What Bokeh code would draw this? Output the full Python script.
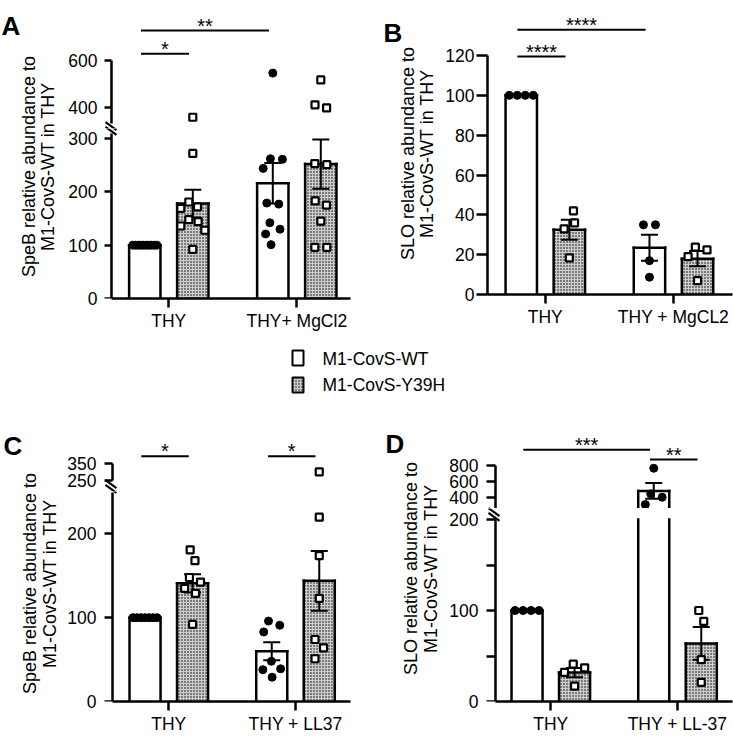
import numpy as np
from bokeh.plotting import figure
from bokeh.models import Range1d, FixedTicker, LinearAxis
from bokeh.layouts import row, column
from bokeh.embed import file_html
from bokeh.resources import INLINE
from bokeh.core.properties import value

FONT = "Liberation Sans"

# ------------------------------------------------------------------ data
strains = ["M1-CovS-WT", "M1-CovS-Y39H"]

A_cats = ["THY", "THY+ MgCl2"]
A_wt_mean = [100, 216]
A_wt_sem = [0, 38]
A_mut_mean = [178, 252]
A_mut_sem = [26, 46]
A_wt_pts = [[100] * 10, [546, 262, 261, 244, 179, 177, 142, 130, 121, 101]]
A_mut_pts = [[357, 272, 181, 172, 169, 148, 144, 136, 128, 92],
             [517, 410, 397, 253, 251, 183, 175, 145, 96, 96]]
A_sig_from = [0, 0]          # bar index: 0 WT/grp1, 1 Y39H/grp1, 2 WT/grp2, 3 Y39H/grp2
A_sig_to = [1, 2]
A_sig_y = [629, 728]
A_sig_text = ["*", "**"]
A_ticks_upper = [400, 600]
A_ticks_lower = [0, 100, 200, 300]

B_cats = ["THY", "THY + MgCL2"]
B_wt_mean = [100, 23.5]
B_wt_sem = [0, 6.5]
B_mut_mean = [32.5, 18]
B_mut_sem = [5, 3.8]
B_wt_pts = [[100] * 4, [35, 35, 17, 8.7]]
B_mut_pts = [[42, 36, 33, 18.4], [22.4, 23.8, 19, 7]]
B_sig_from = [0, 0]
B_sig_to = [1, 2]
B_sig_y = [119.5, 133]
B_sig_text = ["****", "****"]
B_ticks = [0, 20, 40, 60, 80, 100, 120]

C_cats = ["THY", "THY + LL37"]
C_wt_mean = [100, 60]
C_wt_sem = [0, 10.7]
C_mut_mean = [141, 144]
C_mut_sem = [11, 35.7]
C_wt_pts = [[100] * 7, [91, 96, 83, 48, 39, 38, 29]]
C_mut_pts = [[181, 168, 148, 142.5, 135, 129, 92],
             [300, 220, 174, 123, 74, 64, 51]]
C_sig_from = [0, 2]
C_sig_to = [1, 3]
C_sig_y = [390, 390]
C_sig_text = ["*", "*"]
C_ticks_upper = [250, 350]
C_ticks_lower = [0, 100, 200]

D_cats = ["THY", "THY + LL-37"]
D_wt_mean = [100, 485]
D_wt_sem = [0, 98]
D_mut_mean = [31.75, 63.75]
D_mut_sem = [5, 18]
D_wt_pts = [[100] * 4, [766, 450, 407, 317]]
D_mut_pts = [[37, 41, 32, 17], [100, 88, 46, 21]]
D_sig_from = [0, 2]
D_sig_to = [2, 3]
D_sig_y = [994, 874]
D_sig_text = ["***", "**"]
D_ticks_upper = [400, 600, 800]
D_ticks_lower = [0, 50, 100, 150, 200]
D_labels_lower = {50: "", 150: ""}

# ------------------------------------------------------------------ style / layout
OFF = 0.1875
BW = 0.245
HATCH = dict(hatch_pattern="dot", hatch_color="black", hatch_scale=3, hatch_weight=1.4)
MUT_FILL = "#cdcdcd"
TICK_FS = "17.5px"
LAB_FS = "18px"

PANELS = [
    dict(cats=A_cats, wm=A_wt_mean, ws=A_wt_sem, mm=A_mut_mean, ms=A_mut_sem,
         wp=A_wt_pts, mp=A_mut_pts, sf=A_sig_from, st=A_sig_to, sy=A_sig_y, stx=A_sig_text,
         letter="A", ylab=["SpeB relative abundance to", "M1-CovS-WT in THY"],
         lab_w=60, lab_h=340, letter_x=1, letter_base=25, ylab_x=[28.7, 47.3], ylab_cy=166,
         seg_w=320, mb_l=44, mb_r=30, frame_left=104, xr=(0.49766, 2.41953), ppx=128.0,
         yaxis_x=0.55625, lab_so=7,
         segs=[dict(lo=308.8, hi=805.6, ppu=0.2335, top=12, h=128, mbt=12, mbb=0,
                    dom=(331.5, 805.6), ticks=A_ticks_upper, bounds=(331.5, 600), x=False),
               dict(lo=0, hi=318.8, ppu=0.5333, top=128, h=212, mbt=0, mbb=42,
                    dom=(0, 310), ticks=A_ticks_lower, bounds=(0, 310), x=True)],
         brk=(110.5, 128)),
    dict(cats=B_cats, wm=B_wt_mean, ws=B_wt_sem, mm=B_mut_mean, ms=B_mut_sem,
         wp=B_wt_pts, mp=B_mut_pts, sf=B_sig_from, st=B_sig_to, sy=B_sig_y, stx=B_sig_text,
         letter="B", ylab=["SLO relative abundance to", "M1-CovS-WT in THY"],
         lab_w=56, lab_h=340, letter_x=3, letter_base=25, ylab_x=[27.3, 46.7], ylab_cy=170,
         seg_w=297, mb_l=51, mb_r=1, frame_left=487, xr=(0.5491, 2.4602), ppx=128.2,
         yaxis_x=None, lab_so=2,
         segs=[dict(lo=0, hi=141.6, ppu=1.9917, top=12, h=340, mbt=12, mbb=46,
                    dom=(0, 141.6), ticks=B_ticks, bounds=(0, 120), x=True)],
         brk=None),
    dict(cats=C_cats, wm=C_wt_mean, ws=C_wt_sem, mm=C_mut_mean, ms=C_mut_sem,
         wp=C_wt_pts, mp=C_mut_pts, sf=C_sig_from, st=C_sig_to, sy=C_sig_y, stx=C_sig_text,
         letter="C", ylab=["SpeB relative abundance to", "M1-CovS-WT in THY"],
         lab_w=60, lab_h=341, letter_x=3, letter_base=50, ylab_x=[29, 49], ylab_cy=188,
         seg_w=320, mb_l=44, mb_r=30, frame_left=104, xr=(0.49250, 2.43408), ppx=126.7,
         yaxis_x=0.55170, lab_so=8,
         segs=[dict(lo=186.4, hi=481.2, ppu=0.173, top=440, h=96, mbt=45, mbb=0,
                    dom=(250, 481.2), ticks=C_ticks_upper, bounds=(250, 350), x=False),
               dict(lo=0, hi=250.6, ppu=0.846, top=491, h=245, mbt=0, mbb=33,
                    dom=(0, 250), ticks=C_ticks_lower, bounds=(0, 250), x=True)],
         brk=(110.5, 486)),
    dict(cats=D_cats, wm=D_wt_mean, ws=D_wt_sem, mm=D_mut_mean, ms=D_mut_sem,
         wp=D_wt_pts, mp=D_mut_pts, sf=D_sig_from, st=D_sig_to, sy=D_sig_y, stx=D_sig_text,
         letter="D", ylab=["SLO relative abundance to", "M1-CovS-WT in THY"],
         lab_w=62, lab_h=341, letter_x=5, letter_base=48, ylab_x=[30.5, 50.5], ylab_cy=173,
         seg_w=291, mb_l=44, mb_r=1, frame_left=486, xr=(0.49250, 2.43408), ppx=126.7,
         yaxis_x=0.55959, lab_so=8,
         segs=[dict(lo=267.8, hi=1233.2, ppu=0.0808, top=430, h=113, mbt=35, mbb=0,
                    dom=(267.8, 1233.2), ticks=D_ticks_upper, bounds=(267.8, 800), x=False),
               dict(lo=0, hi=212.1, ppu=0.91, top=508, h=228, mbt=0, mbb=35,
                    dom=(0, 200), ticks=D_ticks_lower, bounds=(0, 200), x=True,
                    over=D_labels_lower)],
         brk=(493.5, 514)),
]


def bar_x(i):
    g, s = divmod(i, 2)
    return g + 1 + (OFF if s else -OFF)


def swarm(vals, ys, d=12.0, limit=12.0):
    n = len(vals)
    order = sorted(range(n), key=lambda i: -vals[i])
    placed = {}
    for i in order:
        y = ys[i]
        cands = [0.0]
        for (px, py) in placed.values():
            dy = abs(py - y)
            if dy < d:
                dx = (d * d - dy * dy) ** 0.5
                cands += [px + dx, px - dx]
        cands.sort(key=lambda c: (round(abs(c), 6), -c))
        for c in cands:
            if all((c - px) ** 2 + (y - py) ** 2 >= d * d - 1e-6 for px, py in placed.values()):
                placed[i] = (c, y)
                break
    offs = [placed[i][0] for i in range(n)]
    idx = sorted(range(n), key=lambda i: ys[i])
    clusters = []
    for i in idx:
        if clusters and ys[i] - ys[clusters[-1][-1]] < d:
            clusters[-1].append(i)
        else:
            clusters.append([i])
    for cl in clusters:
        c = (max(offs[i] for i in cl) + min(offs[i] for i in cl)) / 2
        for i in cl:
            offs[i] -= c
    m = max(abs(o) for o in offs)
    if m > limit:
        offs = [o * limit / m for o in offs]
    return offs


def to_page_y(P, v):
    for s in reversed(P["segs"]):
        if s["dom"][0] <= v <= s["dom"][1]:
            return s["top"] + (s["hi"] - v) * s["ppu"]
    return float("nan")


def label_style(ax):
    ax.major_label_text_font = FONT
    ax.major_label_text_font_size = TICK_FS
    ax.major_label_text_color = "black"


def rule_style(ax, tick_out):
    ax.axis_line_width = 2.5
    ax.axis_line_color = "black"
    ax.major_tick_line_width = 2.5
    ax.major_tick_line_color = "black"
    ax.major_tick_out = tick_out
    ax.major_tick_in = 0
    ax.minor_tick_line_color = None


def style_axes(p, s, P):
    ax = p.yaxis[0]
    ax.ticker = FixedTicker(ticks=s["ticks"], minor_ticks=[])
    ax.bounds = s["bounds"]
    label_style(ax)
    ax.major_label_standoff = P["lab_so"]
    if s.get("over"):
        ax.major_label_overrides = s["over"]
    if P["yaxis_x"] is None:
        rule_style(ax, 11)
    else:
        # frame-edge axis carries only the tick labels; the axis line and ticks are
        # drawn by a second axis pinned at the panel's y-axis position
        ax.axis_line_color = None
        ax.major_tick_line_color = None
        ax.minor_tick_line_color = None
        ax.major_tick_out = 0
        ax.major_tick_in = 0
        rule = LinearAxis(ticker=FixedTicker(ticks=s["ticks"], minor_ticks=[]),
                          fixed_location=P["yaxis_x"], bounds=s["bounds"],
                          major_label_text_color=None)
        rule_style(rule, 11)
        p.add_layout(rule, "left")
    if s["x"]:
        cats = P["cats"]
        xa = p.xaxis[0]
        xa.ticker = FixedTicker(ticks=[1, 2], minor_ticks=[])
        xa.major_label_overrides = {1: cats[0], 2: cats[1]}
        if P["yaxis_x"] is not None:
            xa.bounds = (P["yaxis_x"], P["xr"][1])
        rule_style(xa, 9)
        label_style(xa)
        xa.major_label_standoff = 3


def build_panel(P):
    lf = figure(width=P["lab_w"], height=P["lab_h"], x_range=Range1d(0, P["lab_w"]),
                y_range=Range1d(0, P["lab_h"]), output_backend="svg", toolbar_location=None,
                x_axis_location=None, y_axis_location=None, min_border=0,
                outline_line_color=None)
    lf.grid.visible = False
    H = P["lab_h"]
    lf.text(x=[P["letter_x"]], y=[H - P["letter_base"]], text=[P["letter"]],
            text_font=value(FONT), text_font_style="bold", text_font_size="26px",
            text_baseline="alphabetic", text_align="left", text_color="black")
    lf.text(x=P["ylab_x"], y=[H - P["ylab_cy"]] * 2, text=P["ylab"], angle=np.pi / 2,
            text_font=value(FONT), text_font_size=LAB_FS, text_align="center",
            text_baseline="middle", text_color="black")

    xr = Range1d(*P["xr"])
    groups = []
    for g in range(2):
        for s_i, pts in ((0, P["wp"][g]), (1, P["mp"][g])):
            ys = [to_page_y(P, v) for v in pts]
            offs = swarm(pts, ys)
            xs = [bar_x(2 * g + s_i) + o / P["ppx"] for o in offs]
            groups.append((s_i, xs, pts))

    xs_wt = [bar_x(0), bar_x(2)]
    xs_mut = [bar_x(1), bar_x(3)]
    figs = []
    for k, s in enumerate(P["segs"]):
        lo, hi = s["lo"], s["hi"]
        dlo, dhi = s["dom"]
        p = figure(width=P["seg_w"], height=s["h"], x_range=xr,
                   y_range=Range1d(lo, hi), output_backend="svg",
                   toolbar_location=None, x_axis_location="below" if s["x"] else None,
                   y_axis_location="left", min_border_left=P["mb_l"],
                   min_border_right=P["mb_r"], min_border_top=s["mbt"],
                   min_border_bottom=s["mbb"], outline_line_color=None)
        p.grid.visible = False
        style_axes(p, s, P)

        # bars, clipped to this axis segment (outline drawn as open edges)
        base = max(0, dlo)
        for xs, m, mut in ((xs_wt, P["wm"], False), (xs_mut, P["mm"], True)):
            sel = [i for i in range(2) if m[i] > dlo]
            if not sel:
                continue
            bx = [xs[i] for i in sel]
            bt = [min(m[i], dhi) for i in sel]
            extra = HATCH if mut else {}
            p.vbar(x=bx, top=bt, bottom=[base] * len(sel), width=BW,
                   fill_color=MUT_FILL if mut else "white", line_color=None, **extra)
            ex0, ey0, ex1, ey1 = [], [], [], []
            for i in sel:
                xl, xrr = xs[i] - BW / 2, xs[i] + BW / 2
                t = min(m[i], dhi)
                ex0 += [xl, xrr]
                ex1 += [xl, xrr]
                ey0 += [base, base]
                ey1 += [t, t]
                if m[i] <= dhi:
                    ex0.append(xl)
                    ex1.append(xrr)
                    ey0.append(m[i])
                    ey1.append(m[i])
            p.segment(x0=ex0, y0=ey0, x1=ex1, y1=ey1, line_color="black", line_width=2.5,
                      line_cap="square")

        # error bars (mean +/- SEM)
        for xs, m, e in ((xs_wt, P["wm"], P["ws"]), (xs_mut, P["mm"], P["ms"])):
            sel = [i for i in range(2) if e[i] > 0 and dlo <= m[i] + e[i] <= dhi
                   and dlo <= m[i] - e[i] <= dhi]
            if not sel:
                continue
            ex = [xs[i] for i in sel]
            eh = [m[i] + e[i] for i in sel]
            el = [m[i] - e[i] for i in sel]
            p.segment(x0=ex, y0=el, x1=ex, y1=eh, line_color="black", line_width=2)
            p.scatter(x=ex + ex, y=eh + el, marker="dash", size=17, line_color="black",
                      line_width=2)

        # individual replicates
        for s_i, xs, pts in groups:
            keep = [j for j, v in enumerate(pts) if dlo <= v <= dhi]
            if not keep:
                continue
            kx = [xs[j] for j in keep]
            ky = [pts[j] for j in keep]
            if s_i == 0:
                p.scatter(x=kx, y=ky, marker="circle", size=8, fill_color="black",
                          line_color="black", line_width=1)
            else:
                p.scatter(x=kx, y=ky, marker="square", size=7, fill_color="white",
                          line_color="black", line_width=2.2)

        # significance brackets
        if k == 0:
            x0 = [bar_x(i) - 0.03 for i in P["sf"]]
            x1 = [bar_x(i) - 0.03 for i in P["st"]]
            p.segment(x0=x0, y0=P["sy"], x1=x1, y1=P["sy"], line_color="black", line_width=2)
            p.text(x=[(a + b) / 2 for a, b in zip(x0, x1)], y=P["sy"], text=P["stx"],
                   text_font=value(FONT), text_font_size="20px", text_align="center",
                   text_baseline="alphabetic", y_offset=-5, text_color="black")

        # axis break marks (drawn in both segments; each frame shows its part)
        if P["brk"] is not None:
            cx, cy = P["brk"]
            fx = lambda px: P["xr"][0] + (px - P["frame_left"]) / P["ppx"]
            fy = lambda py: hi - (py - s["top"]) / s["ppu"]
            bx0, by0, bx1, by1 = [], [], [], []
            for kk in (-1, 1):
                bx0.append(fx(cx - 5.5))
                by0.append(fy(cy - 4 + 2.4 * kk))
                bx1.append(fx(cx + 5.5))
                by1.append(fy(cy + 4 + 2.4 * kk))
            p.segment(x0=bx0, y0=by0, x1=bx1, y1=by1, line_color="black", line_width=2.2)
        figs.append(p)
    return row(lf, column(*figs) if len(figs) > 1 else figs[0])


panels = [build_panel(P) for P in PANELS]

# legend strip (page y 340..395)
lg = figure(width=733, height=55, x_range=Range1d(0, 733), y_range=Range1d(0, 55),
            output_backend="svg", toolbar_location=None, x_axis_location=None,
            y_axis_location=None, min_border=0, outline_line_color=None)
lg.grid.visible = False
lg.quad(left=[292], right=[303], top=[395 - 350], bottom=[395 - 365], fill_color="white",
        line_color="black", line_width=2)
lg.quad(left=[292], right=[303], top=[395 - 377], bottom=[395 - 392], fill_color=MUT_FILL,
        line_color="black", line_width=2, **HATCH)
lg.text(x=[322, 322], y=[395 - 358, 395 - 384], text=strains, text_font=value(FONT),
        text_font_size="17.5px", text_baseline="middle", text_align="left",
        text_color="black")

layout = column(row(panels[0], panels[1]), lg, row(panels[2], panels[3]))

open("out.html", "w").write(file_html(layout, INLINE))
